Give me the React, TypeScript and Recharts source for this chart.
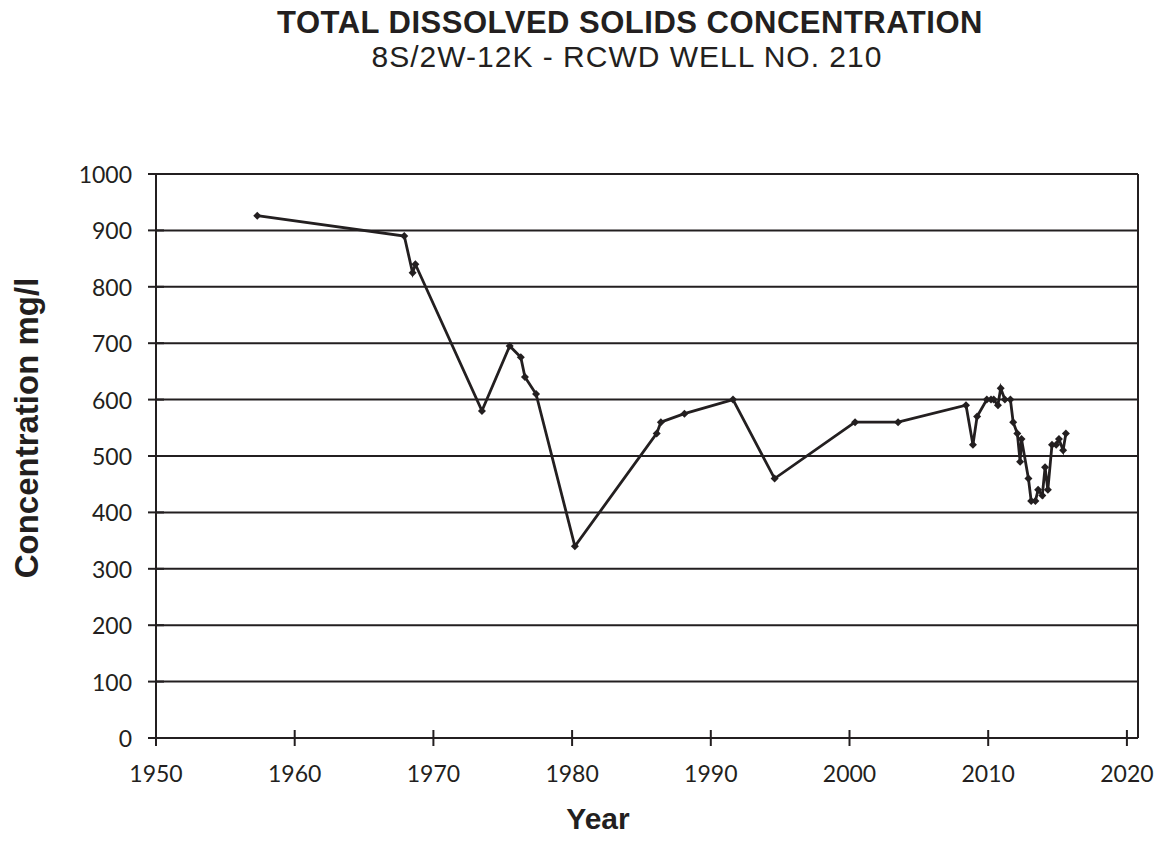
import React from "react";
import {
  CartesianGrid,
  Line,
  LineChart,
  ReferenceLine,
  XAxis,
  YAxis,
} from "recharts";

// sample dates (decimal years) and TDS concentration, mg/l
const years = [
  1957.3, 1967.9, 1968.5, 1968.7, 1973.5, 1975.5, 1976.3, 1976.6, 1977.4, 1980.2,
  1986.1, 1986.4, 1988.1, 1991.6, 1994.6, 2000.4, 2003.5, 2008.4, 2008.9, 2009.2,
  2009.9, 2010.2, 2010.4, 2010.7, 2010.9, 2011.2, 2011.6, 2011.8, 2012.1, 2012.3,
  2012.4, 2012.9, 2013.1, 2013.4, 2013.6, 2013.9, 2014.1, 2014.3, 2014.6, 2014.9,
  2015.1, 2015.4, 2015.6,
];
const tds = [
  926, 890, 825, 840, 580, 695, 675, 640, 610, 340,
  540, 560, 575, 600, 460, 560, 560, 590, 520, 570,
  600, 600, 600, 590, 620, 600, 600, 560, 540, 490,
  530, 460, 420, 420, 440, 430, 480, 440, 520, 520,
  530, 510, 540,
];

const xTicks = [1950, 1960, 1970, 1980, 1990, 2000, 2010, 2020];
const yTicks = [0, 100, 200, 300, 400, 500, 600, 700, 800, 900, 1000];
const xMax = 2020.8;

const data = years.map((year, i) => ({ year, tds: tds[i] }));

const INK = "#231f20";
const tickFont = "Lato, 'Open Sans', sans-serif";
const titleFont = "'Liberation Sans', Arial, sans-serif";

const YTick = ({ x, y, payload }: any) => (
  <g>
    <line x1={x - 8} x2={x + 8} y1={y} y2={y} stroke={INK} strokeWidth={2} />
    <text
      x={x - 24}
      y={y}
      textAnchor="end"
      dominantBaseline="central"
      fontFamily={tickFont}
      fontSize={23}
      fill={INK}
    >
      {payload.value}
    </text>
  </g>
);

const XTick = ({ x, y, payload }: any) => (
  <g>
    <line x1={x} x2={x} y1={y - 8} y2={y + 8} stroke={INK} strokeWidth={2} />
    <text
      x={x}
      y={y + 44}
      textAnchor="middle"
      fontFamily={tickFont}
      fontSize={23}
      fill={INK}
    >
      {payload.value}
    </text>
  </g>
);

const Diamond = ({ cx, cy, index }: any) => {
  const r = 4;
  return (
    <path
      key={`pt-${index}`}
      d={`M${cx},${cy - r}L${cx + r},${cy}L${cx},${cy + r}L${cx - r},${cy}Z`}
      fill={INK}
    />
  );
};

export default function App() {
  return (
    <div
      style={{
        position: "absolute",
        left: 0,
        top: 0,
        width: 1159,
        height: 848,
        background: "#fff",
      }}
    >
      <LineChart
        width={1159}
        height={848}
        data={data}
        margin={{ top: 174, right: 21, bottom: 80, left: 76 }}
      >
        <text
          x={630}
          y={33}
          textAnchor="middle"
          fontFamily={titleFont}
          fontWeight="bold"
          fontSize={31}
          letterSpacing={0.5}
          fill={INK}
        >
          TOTAL DISSOLVED SOLIDS CONCENTRATION
        </text>
        <text
          x={627}
          y={67}
          textAnchor="middle"
          fontFamily={titleFont}
          fontSize={30}
          letterSpacing={1}
          fill={INK}
        >
          8S/2W-12K - RCWD WELL NO. 210
        </text>
        <CartesianGrid
          vertical={false}
          stroke={INK}
          strokeWidth={2}
          strokeOpacity={1}
        />
        <XAxis
          type="number"
          dataKey="year"
          domain={[1950, xMax]}
          ticks={xTicks}
          interval={0}
          height={30}
          tickSize={0}
          tickMargin={0}
          tickLine={false}
          axisLine={{ stroke: INK, strokeWidth: 2 }}
          tick={<XTick />}
          allowDataOverflow
        />
        <YAxis
          type="number"
          domain={[0, 1000]}
          ticks={yTicks}
          interval={0}
          width={80}
          tickSize={0}
          tickMargin={0}
          tickLine={false}
          axisLine={{ stroke: INK, strokeWidth: 2 }}
          tick={<YTick />}
        />
        <ReferenceLine x={xMax} stroke={INK} strokeWidth={2} ifOverflow="visible" />
        <Line
          type="linear"
          dataKey="tds"
          stroke={INK}
          strokeWidth={2.8}
          dot={<Diamond />}
          activeDot={false}
          isAnimationActive={false}
        />
      </LineChart>

      <div
        style={{
          position: "absolute",
          left: 27,
          top: 428,
          transform: "translate(-50%, -50%) rotate(-90deg)",
          whiteSpace: "nowrap",
          fontFamily: titleFont,
          fontWeight: "bold",
          fontSize: 33,
          color: INK,
        }}
      >
        Concentration mg/l
      </div>
      <div
        style={{
          position: "absolute",
          left: 598,
          top: 819,
          transform: "translate(-50%, -50%)",
          whiteSpace: "nowrap",
          fontFamily: titleFont,
          fontWeight: "bold",
          fontSize: 30,
          color: INK,
        }}
      >
        Year
      </div>
    </div>
  );
}
